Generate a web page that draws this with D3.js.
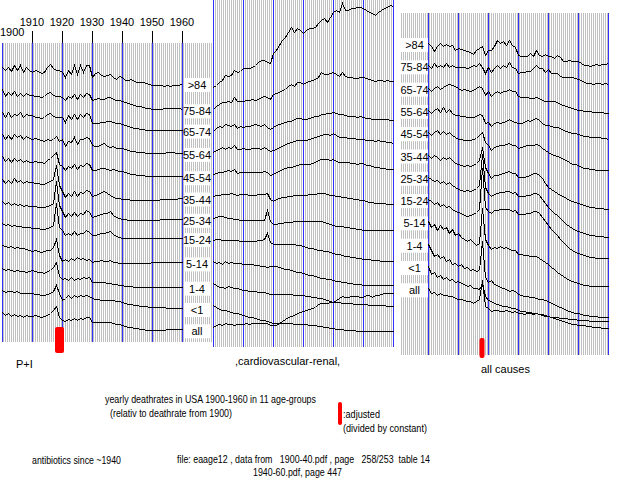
<!DOCTYPE html>
<html lang="en">
  <head>
    <meta charset="utf-8">
    <title>Yearly deathrates in USA 1900-1960</title>
    <script src="https://d3js.org/d3.v7.min.js"></script>
    <style>
      body { margin: 0; background: #fff; }
      svg text { font-family: "Liberation Sans", Arial, sans-serif; font-size: 11px; fill: #000; white-space: pre; }
    </style>
  </head>
  <body>
    <div id="chart"></div>
    <script>

      var years = d3.range(1900, 1961);
      var decades = [1900, 1910, 1920, 1930, 1940, 1950, 1960];
      var groups = [">84", "75-84", "65-74", "55-64", "45-54", "35-44", "25-34", "15-24", "5-14", "1-4", "<1", "all"];
      var adjustedYear = 1918;

      // pneumonia + influenza, deathrate relative to 1900 (=100), one row per age group
      var piRates = [
        [100,88,100,84,108,88,108,80,100,88,80,88,84,76,80,100,112,96,88,88,80,60,88,72,108,72,108,80,108,108,60,76,80,68,64,68,72,60,52,64,60,48,48,52,44,40,40,40,36,32,28,28,28,28,24,28,24,28,28,28,36],
        [100,72,88,76,92,72,84,72,84,76,76,72,72,68,72,84,88,76,72,72,68,56,72,64,80,60,80,68,84,80,56,60,64,60,60,68,68,60,56,56,52,48,44,40,36,32,32,28,24,24,20,20,20,20,24,24,24,24,24,24,20],
        [100,80,100,80,92,88,100,80,92,88,88,80,80,76,80,92,96,84,80,80,80,60,88,72,92,72,92,80,96,92,56,56,56,60,60,64,64,60,56,56,52,48,44,40,36,36,32,32,28,28,28,28,28,28,28,28,28,28,28,28,28],
        [100,80,96,80,100,88,96,80,92,84,80,84,80,76,72,80,76,80,92,72,80,52,72,68,88,60,80,80,88,84,56,52,52,60,64,52,48,52,44,44,44,40,36,32,32,28,28,28,24,24,24,24,24,24,24,28,28,28,24,24,24],
        [100,80,92,76,92,80,88,76,84,76,76,80,76,76,72,84,92,104,116,68,60,44,60,52,68,48,64,60,72,68,44,44,48,52,52,48,44,48,44,40,40,36,32,28,28,24,24,24,20,20,20,20,20,20,20,20,20,20,20,20,20],
        [100,84,96,84,104,88,96,84,92,88,88,84,84,80,80,88,92,100,156,76,52,28,44,32,52,32,48,44,56,52,32,36,40,48,52,44,36,28,24,24,20,20,20,16,16,16,16,16,16,16,16,16,16,20,20,20,20,20,20,24,24],
        [100,88,96,84,92,84,88,80,84,80,80,80,76,76,76,80,84,92,180,84,60,36,52,40,56,40,52,48,64,56,36,40,44,48,52,52,60,44,36,32,28,28,24,24,24,24,24,24,24,24,24,24,24,28,28,28,28,28,28,28,28],
        [100,92,96,88,92,88,88,84,84,84,80,80,80,76,76,80,84,92,180,84,72,52,60,52,68,52,60,60,72,64,52,52,56,60,60,64,68,56,48,44,40,40,40,40,40,40,40,40,40,40,40,40,40,40,40,40,40,40,40,40,40],
        [100,96,92,96,88,92,88,88,84,80,76,80,76,72,76,80,80,92,124,60,36,44,36,48,40,52,44,48,40,44,32,36,36,40,36,36,40,32,32,28,28,28,28,28,28,28,28,28,28,28,32,32,32,32,32,32,32,32,32,32,32],
        [100,92,96,92,88,92,88,88,84,88,92,88,84,84,80,88,92,104,124,68,56,60,52,64,52,60,56,64,60,64,44,44,44,44,44,40,40,36,36,32,32,28,28,28,24,24,24,24,24,24,24,24,24,24,24,24,24,24,24,24,24],
        [100,92,96,96,92,96,88,88,88,88,88,84,84,80,80,84,88,96,120,88,60,68,80,68,80,72,80,76,80,76,68,64,64,60,60,60,60,60,56,56,52,48,44,44,40,40,36,36,36,32,32,32,32,32,32,28,28,28,28,28,28],
        [100,88,96,84,92,84,88,80,88,84,84,88,84,80,84,88,96,108,124,80,68,64,72,68,76,68,76,72,80,80,60,60,60,60,60,60,60,56,52,52,48,44,40,40,36,36,32,32,28,28,28,28,28,28,28,32,32,32,32,32,32]
      ];

      // cardiovascular-renal, relative to 1900 (=100)
      var cvrRates = [
        [100,104,110,114,124,122,124,134,130,132,138,138,138,140,144,150,154,154,150,148,168,174,184,194,200,210,220,210,218,214,208,214,218,218,220,228,234,238,230,240,250,254,250,268,254,254,258,258,260,260,258,254,250,248,244,250,254,258,260,264,262],
        [100,106,110,114,114,116,114,124,116,116,116,118,118,120,118,120,124,126,124,120,130,132,134,138,140,146,150,146,154,154,150,154,156,158,160,164,174,170,170,172,174,170,166,174,166,164,164,162,162,164,164,162,160,158,156,158,158,156,158,156,156],
        [100,106,110,108,114,112,110,114,106,110,108,110,110,112,114,112,110,114,108,104,108,112,114,116,118,120,120,124,126,126,124,124,126,128,130,130,134,134,136,136,138,136,134,134,132,130,130,130,128,130,128,126,126,124,124,124,124,124,124,122,122],
        [100,104,106,110,106,110,108,114,106,106,108,106,106,108,108,108,106,110,106,102,104,106,110,112,116,118,120,122,124,124,124,124,126,128,130,132,134,136,136,134,138,134,130,130,130,128,128,128,126,126,126,124,124,124,122,124,122,122,120,120,118],
        [100,102,104,104,106,108,106,110,102,104,104,104,104,104,104,104,104,106,104,98,100,104,106,110,112,114,114,116,118,120,120,120,120,122,124,128,130,130,130,128,130,126,124,124,124,124,122,122,120,122,122,118,118,116,114,114,112,112,110,110,110],
        [100,102,102,104,104,104,106,104,102,104,104,104,102,102,102,104,104,104,106,94,90,94,96,98,98,100,100,102,102,102,102,102,104,104,104,106,106,106,104,102,102,100,100,98,98,96,96,94,94,92,92,90,88,88,86,86,86,86,84,84,84],
        [100,102,104,104,102,100,100,98,98,96,96,96,96,96,96,96,96,96,116,94,88,88,90,90,92,92,92,94,94,94,94,94,94,94,94,94,94,92,90,88,86,84,84,84,82,82,80,80,78,78,76,76,76,76,76,76,76,76,76,76,76],
        [100,102,102,100,100,100,100,100,100,98,98,98,98,98,98,100,100,102,114,96,92,92,92,92,92,92,92,92,90,90,88,86,84,84,82,80,80,78,78,76,74,72,72,70,68,68,66,66,64,64,62,62,62,60,60,60,58,58,58,58,58],
        [100,96,98,94,100,96,98,96,96,96,94,94,94,94,92,92,90,90,88,90,90,90,88,86,84,84,82,80,78,78,76,74,72,72,70,68,66,66,64,64,62,60,60,58,58,56,56,54,54,54,52,52,52,52,52,52,52,52,52,52,52],
        [100,96,92,92,90,94,92,90,90,88,86,86,84,84,84,82,82,82,80,78,78,78,78,78,78,78,78,76,76,76,76,74,74,72,72,70,70,68,66,64,62,62,62,60,60,60,60,58,58,58,58,58,56,56,56,56,56,56,54,54,54],
        [100,96,92,90,90,88,86,84,84,82,80,78,76,76,74,72,70,70,68,66,64,64,64,64,64,64,64,62,62,62,62,62,60,60,60,58,58,56,56,54,54,52,52,52,50,50,50,50,48,48,48,48,48,48,48,48,48,48,48,48,48],
        [100,104,106,104,108,106,106,104,106,106,106,108,106,108,108,108,108,108,108,104,104,104,108,112,116,120,122,124,128,130,132,134,136,138,140,146,148,148,148,150,150,154,158,162,160,160,162,162,162,160,160,164,164,160,164,164,166,168,168,168,168]
      ];

      // all causes, relative to 1900 (=100)
      var allRates = [
        [100,97,92,97,100,97,99,97,98,93,95,94,93,92,91,89,93,95,97,88,93,93,97,103,100,102,98,103,98,96,88,87,87,87,90,87,93,88,87,89,87,87,85,88,86,82,82,83,82,82,82,80,78,78,77,78,79,78,79,79,80],
        [100,97,102,98,100,98,102,98,100,98,98,98,98,97,98,100,99,102,98,92,98,93,97,100,97,100,98,103,98,97,92,93,93,94,94,97,100,97,97,93,96,92,92,92,89,88,88,88,88,87,86,85,83,82,82,81,82,82,81,82,81],
        [100,97,100,102,99,101,103,104,103,102,100,98,99,98,97,98,100,102,100,93,97,92,95,97,95,97,97,99,97,97,92,91,91,91,90,90,91,90,88,87,87,87,87,86,84,83,82,81,80,79,78,78,77,77,77,76,76,76,76,75,75],
        [100,97,100,102,98,103,98,101,97,95,95,94,94,93,93,93,94,96,95,87,88,84,87,88,87,88,89,91,89,88,87,87,88,90,89,91,92,90,87,85,85,84,83,83,82,80,79,78,77,77,76,75,74,74,73,73,73,73,72,72,71],
        [100,97,100,102,98,101,98,100,97,95,93,93,92,92,92,93,94,97,100,90,87,82,85,86,87,87,88,89,87,87,84,85,86,87,87,87,88,87,84,82,80,78,77,76,75,73,72,70,68,68,67,65,64,64,63,63,62,62,62,62,62],
        [100,97,100,98,95,98,96,98,95,92,91,90,89,90,89,90,92,95,108,88,82,77,80,80,81,82,83,84,82,82,78,78,78,79,80,82,82,80,77,72,68,66,64,62,60,59,57,55,54,53,52,51,50,49,48,48,47,47,47,46,46],
        [100,98,96,97,94,96,93,95,92,90,88,87,86,87,86,87,89,92,123,90,84,81,83,84,85,85,86,86,84,85,81,81,81,82,82,84,84,82,78,74,70,67,64,62,59,56,53,51,49,47,46,45,44,43,42,42,41,41,41,40,40],
        [100,98,95,97,93,95,92,93,90,88,87,86,84,83,84,85,87,90,131,92,88,86,89,89,90,90,90,90,88,89,85,85,85,86,86,88,88,86,82,78,74,70,67,64,60,57,54,51,49,47,46,45,44,43,42,42,41,41,41,41,41],
        [100,94,97,91,96,92,94,88,92,86,88,84,82,80,82,79,76,78,113,82,76,72,74,73,75,73,74,72,71,71,67,67,66,66,65,65,65,63,61,59,57,54,52,49,47,45,43,41,40,39,38,37,36,36,35,35,35,35,35,35,35],
        [100,94,88,90,86,88,83,85,80,81,78,80,76,77,74,75,73,74,103,67,62,64,60,59,57,56,55,53,54,53,50,49,48,48,47,47,46,45,45,44,43,41,40,38,37,36,34,33,32,31,31,30,29,29,28,28,28,27,27,27,27],
        [100,92,94,89,91,87,89,86,87,84,85,83,82,80,81,78,78,77,82,70,66,65,63,62,61,60,60,59,58,58,56,55,55,54,54,53,53,52,52,51,50,49,48,47,46,45,44,43,42,42,41,41,41,40,40,39,39,39,38,38,38],
        [100,95,96,93,95,93,93,92,92,90,89,89,88,87,87,85,87,89,108,82,80,77,78,78,77,77,78,77,76,77,75,75,74,75,75,74,75,74,73,72,72,71,71,71,70,70,70,69,69,69,68,68,68,68,67,67,67,67,67,67,67]
      ];

      var notes = [
        {text: "yearly deathrates in USA 1900-1960 in 11 age-groups", x: 105, y: 403, len: 211},
        {text: "(relativ to deathrate from 1900)", x: 110, y: 417, len: 122},
        {text: ":adjusted", x: 343, y: 418, len: 37},
        {text: "(divided by constant)", x: 343, y: 432, len: 84},
        {text: "antibiotics since ~1940", x: 32, y: 464, len: 89},
        {text: "file: eaage12 , data from   1900-40.pdf , page   258/253  table 14", x: 177, y: 463, len: 253},
        {text: "1940-60.pdf, page 447", x: 253, y: 476, len: 89}
      ];

      var w = 640, h = 480;

      var svg = d3.select("#chart").append("svg")
                  .attr("width", w)
                  .attr("height", h);

      svg.append("rect").attr("width", w).attr("height", h).attr("fill", "#fff");

      svg.append("defs").append("pattern")
          .attr("id", "stripes")
          .attr("patternUnits", "userSpaceOnUse")
          .attr("width", 2).attr("height", 8)
        .append("rect")
          .attr("x", 1).attr("width", 1).attr("height", 8)
          .attr("fill", "#c0c0c0");

      // one panel per cause of death; bg = [left, top, right, bottom]
      var panels = [
        {rates: piRates, x0: 2, base: 67, step: 22.3, span: 25, bg: [2, 43, 212, 342],
         labels: "end", box: [184, 26], title: "P+I", titleX: 16, titleY: 368,
         red: {dx: -1, w: 9, y: 327, h: 26}},
        {rates: cvrRates, x0: 213, base: 87, step: 21.8, span: 50, bg: [212, 0, 395, 347],
         title: ",cardiovascular-renal,", titleX: 235, titleY: 365},
        {rates: allRates, x0: 428, base: 43, step: 22.3, span: 100, bg: [401, 13, 609, 355],
         labels: "start", box: [401, 27], title: "all causes", titleX: 481, titleY: 373,
         red: {dx: -2.5, w: 5, y: 338, h: 20}}
      ];

      panels.forEach(function(p) {
        var xScale = d3.scaleLinear().domain([1900, 1960]).range([p.x0, p.x0 + 180]);
        p.xScale = xScale;
        var g = svg.append("g");

        g.append("rect")
            .attr("x", p.bg[0]).attr("y", p.bg[1])
            .attr("width", p.bg[2] - p.bg[0])
            .attr("height", p.bg[3] - p.bg[1])
            .attr("fill", "url(#stripes)");

        g.selectAll("line").data(decades).enter().append("line")
            .attr("x1", d => xScale(d) + 0.5)
            .attr("x2", d => xScale(d) + 0.5)
            .attr("y1", p.bg[1])
            .attr("y2", p.bg[3])
            .attr("stroke", "#3232ff")
            .attr("shape-rendering", "crispEdges");

        p.rates.forEach(function(series, i) {
          var base = p.base + i * p.step;
          var yScale = d3.scaleLinear().domain([0, 100]).range([base + p.span, base]);
          var line = d3.line()
              .x((d, j) => xScale(years[j]) + 0.5)
              .y(d => Math.round(yScale(d)) + 0.5);

          g.append("path").datum(series)
              .attr("d", line)
              .attr("fill", "none")
              .attr("stroke", "#000")
              .attr("stroke-width", 1)
              .attr("shape-rendering", "crispEdges");

          if (p.labels) {
            var ly = p.labels == "end" ? yScale(series[series.length - 1]) : yScale(series[0]);
            g.append("rect")
                .attr("x", p.box[0]).attr("y", ly - 5)
                .attr("width", p.box[1]).attr("height", 14)
                .attr("fill", "#fff");
            g.append("text")
                .attr("x", p.box[0] + p.box[1] / 2)
                .attr("y", ly + 6)
                .attr("text-anchor", "middle")
                .text(groups[i]);
          }
        });

        if (p.red) {
          g.append("rect")
              .attr("x", xScale(adjustedYear) + p.red.dx)
              .attr("y", p.red.y)
              .attr("width", p.red.w)
              .attr("height", p.red.h)
              .attr("rx", 2)
              .attr("fill", "#ff0000");
        }

        g.append("text").attr("x", p.titleX).attr("y", p.titleY).text(p.title);
      });

      // year axis on top of the first panel
      var x1 = panels[0].xScale;
      svg.append("g").selectAll("line").data(decades.slice(1)).enter().append("line")
          .attr("x1", d => x1(d) + 0.5)
          .attr("x2", d => x1(d) + 0.5)
          .attr("y1", 31).attr("y2", 43)
          .attr("stroke", "#000")
          .attr("shape-rendering", "crispEdges");

      svg.append("g").selectAll("text").data(decades).enter().append("text")
          .attr("x", (d, i) => i ? x1(d) : 0)
          .attr("y", (d, i) => i ? 26 : 36)
          .attr("text-anchor", (d, i) => i ? "middle" : "start")
          .text(d => d);

      // legend mark for the adjusted year
      svg.append("rect")
          .attr("x", 338).attr("y", 402)
          .attr("width", 4).attr("height", 23)
          .attr("rx", 2)
          .attr("fill", "#ff0000");

      svg.append("g").selectAll("text").data(notes).enter().append("text")
          .attr("x", d => d.x)
          .attr("y", d => d.y)
          .attr("textLength", d => d.len)
          .attr("lengthAdjust", "spacingAndGlyphs")
          .text(d => d.text);

    </script>
  </body>
</html>
